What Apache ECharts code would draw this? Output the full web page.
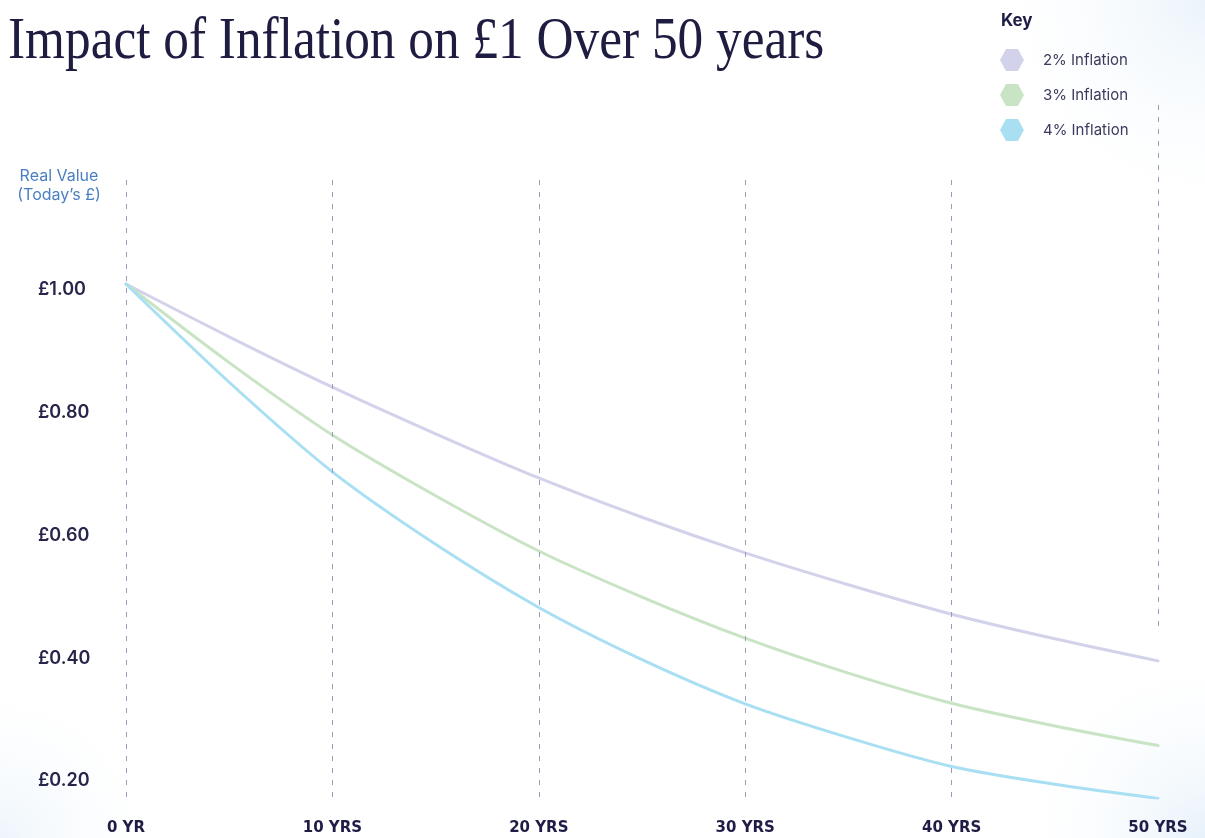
<!DOCTYPE html>
<html>
<head>
<meta charset="utf-8">
<script src="https://cdn.jsdelivr.net/npm/echarts@6/dist/echarts.min.js"></script>
<style>
html,body{margin:0;padding:0;background:#fff;}
#chart{width:1205px;height:838px;}
</style>
</head>
<body>
<div id="chart"></div>
<script>
const chartTitle = 'Impact of Inflation on £1 Over 50 years';
const yAxisName = 'Real Value\n(Today’s £)';
const legendTitle = 'Key';
const seriesNames = ['2% Inflation', '3% Inflation', '4% Inflation'];
const seriesColors = ['#d3d2eb', '#c9e4c4', '#a9dff2'];
const years = [0, 5, 10, 15, 20, 25, 30, 35, 40, 45, 50];
const inflation2 = [1, 0.914, 0.832, 0.756, 0.684, 0.620, 0.562, 0.510, 0.462, 0.422, 0.386];
const inflation3 = [1, 0.872, 0.754, 0.655, 0.565, 0.490, 0.423, 0.366, 0.317, 0.280, 0.248];
const inflation4 = [1, 0.840, 0.694, 0.576, 0.473, 0.388, 0.316, 0.261, 0.214, 0.185, 0.162];
const xTicks = [0, 10, 20, 30, 40, 50];
const xTickLabels = ['0 YR', '10 YRS', '20 YRS', '30 YRS', '40 YRS', '50 YRS'];
const yTicks = [0.2, 0.4, 0.6, 0.8, 1.0];
const yTickLabels = ['£0.20', '£0.40', '£0.60', '£0.80', '£1.00'];

const Y_MIN = 0.1626, Y_MAX = 1.2917;
const GUIDE_TOP = 1.1695;
const LAST_GUIDE = [1.2917, 0.4395];

const hexagon = 'path://M0,50 L25,4 L75,4 L100,50 L75,96 L25,96 Z';

const seriesData = [inflation2, inflation3, inflation4];
const lineSeries = seriesData.map((vals, i) => ({
  name: seriesNames[i],
  type: 'line',
  smooth: 0.3,
  showSymbol: false,
  symbol: 'none',
  z: 3,
  color: seriesColors[i],
  itemStyle: { color: seriesColors[i] },
  lineStyle: { color: seriesColors[i], width: 3, cap: 'round' },
  data: years.map((y, k) => [y, vals[k]])
}));

const guideData = xTicks.map(x => x === 50
  ? [{ coord: [x, LAST_GUIDE[0]] }, { coord: [x, LAST_GUIDE[1]] }]
  : [{ coord: [x, GUIDE_TOP] }, { coord: [x, Y_MIN] }]);

function glow(cx, cy, r, alpha) {
  return {
    type: 'circle', z: -10, silent: true,
    shape: { cx: cx, cy: cy, r: r },
    style: {
      fill: {
        type: 'radial', x: 0.5, y: 0.5, r: 0.5,
        colorStops: [
          { offset: 0, color: 'rgba(226,239,249,' + alpha + ')' },
          { offset: 1, color: 'rgba(255,255,255,0)' }
        ]
      }
    }
  };
}

const chart = echarts.init(document.getElementById('chart'), null, { renderer: 'canvas' });
chart.setOption({
  backgroundColor: '#ffffff',
  animation: false,
  title: [{
    text: legendTitle, left: 996, top: 7,
    textStyle: { fontFamily: 'Inter', fontSize: 17, fontWeight: 'bold', color: '#1f1d45' }
  }, {
    text: yAxisName, left: 54, top: 162, textAlign: 'center',
    textStyle: { fontFamily: 'Inter', fontSize: 16, fontWeight: 'normal', color: '#4a7fc1', lineHeight: 19, align: 'center' }
  }],
  graphic: [
    glow(1205, 0, 230, 0.7),
    glow(1205, 838, 200, 0.8),
    glow(0, 838, 170, 0.6),
    {
      type: 'text', x: 8, y: 12, scaleX: 0.855, scaleY: 1, z: 10,
      style: { text: chartTitle, font: '60px "Liberation Serif"', fill: '#1e1c40', textVerticalAlign: 'top' }
    }
  ],
  legend: {
    data: seriesNames, orient: 'vertical', left: 995, top: 44,
    icon: hexagon, itemWidth: 24, itemHeight: 22, itemGap: 13,
    textStyle: { fontFamily: 'Inter', fontSize: 15, color: '#3b3a5c', padding: [0, 0, 0, 14] }
  },
  grid: { left: 126, right: 47, top: 105, bottom: 40, containLabel: false },
  xAxis: {
    type: 'value', min: 0, max: 50, interval: 10,
    axisLine: { show: false }, axisTick: { show: false }, splitLine: { show: false },
    axisLabel: {
      margin: 23, fontFamily: 'DejaVu Sans', fontSize: 15, fontWeight: 'bold', color: '#1f1d45',
      formatter: v => xTickLabels[xTicks.indexOf(v)] || ''
    }
  },
  yAxis: {
    type: 'value', min: Y_MIN, max: Y_MAX,
    axisLine: { show: false }, axisTick: { show: false }, splitLine: { show: false },
    axisLabel: {
      customValues: yTicks, align: 'left', margin: 88, verticalAlign: 'top', lineHeight: 12,
      fontFamily: 'Inter', fontSize: 18, fontWeight: 600, color: '#27264a',
      formatter: v => { const i = yTicks.findIndex(t => Math.abs(t - v) < 1e-6); return i >= 0 ? yTickLabels[i] : ''; }
    }
  },
  series: [{
    type: 'line', name: 'guides', data: [], z: 1, silent: true,
    markLine: {
      silent: true, symbol: 'none', animation: false,
      label: { show: false },
      lineStyle: { color: '#9c9ab8', width: 1, type: [5, 7] },
      data: guideData
    }
  }].concat(lineSeries)
});
</script>
</body>
</html>
